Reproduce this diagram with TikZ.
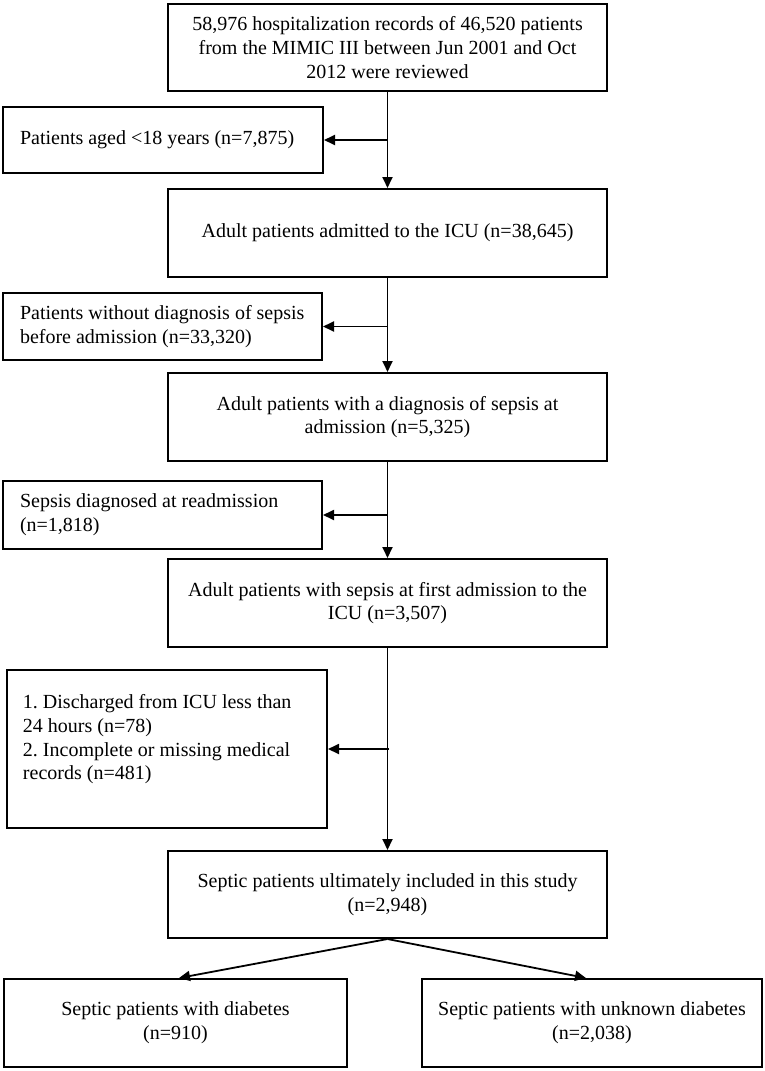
\documentclass[tikz,border=0pt]{standalone}
\usepackage{fontspec}
\setmainfont{Liberation Serif}
\usetikzlibrary{arrows.meta,calc}
\begin{document}
\frenchspacing
\begin{tikzpicture}[x=1pt,y=-1pt,
  box/.style={draw=black, line width=2pt, inner xsep=0pt, inner ysep=0pt,
    font=\fontsize{20pt}{23.8pt}\selectfont\frenchspacing, align=flush center, anchor=center},
  sidebox/.style={box, align=flush left},
  arr/.style={line width=1.8pt, -{Triangle[length=11pt,width=10pt]}}]
\useasboundingbox (0,0) rectangle (765,1071);
% main column
\node[box, minimum width=439pt, minimum height=87pt, text width=425pt] (b1) at (387.5,47.5)
  {58,976 hospitalization records of 46,520 patients\\from the MIMIC III between Jun 2001 and Oct\\2012 were reviewed};
\node[box, minimum width=439pt, minimum height=88pt, text width=425pt] (b2) at (387.5,233)
  {Adult patients admitted to the ICU (n=38,645)};
\node[box, minimum width=439pt, minimum height=88pt, text width=425pt] (b3) at (387.5,417)
  {Adult patients with a diagnosis of sepsis at\\admission (n=5,325)};
\node[box, minimum width=439pt, minimum height=88pt, text width=425pt] (b4) at (387.5,603)
  {Adult patients with sepsis at first admission to the\\ICU (n=3,507)};
\node[box, minimum width=439pt, minimum height=87pt, text width=425pt] (b5) at (387.5,894.5)
  {Septic patients ultimately included in this study\\(n=2,948)};
% side boxes
\node[sidebox, minimum width=320pt, minimum height=66pt, text width=286pt] (s1) at (163,140)
  {Patients aged <18 years (n=7,875)};
\node[sidebox, minimum width=319pt, minimum height=67pt, text width=285pt] (s2) at (162.5,326.5)
  {Patients without diagnosis of sepsis\\before admission (n=33,320)};
\node[sidebox, minimum width=319pt, minimum height=68pt, text width=285pt] (s3) at (162.5,515)
  {Sepsis diagnosed at readmission\\(n=1,818)};
\node[sidebox, minimum width=320pt, minimum height=158pt, text width=288pt] (s4) at (167,749)
  {1. Discharged from ICU less than\\24 hours (n=78)\\2. Incomplete or missing medical\\records (n=481)\\\mbox{}};
% bottom boxes
\node[box, minimum width=343pt, minimum height=88pt, text width=330pt] (d1) at (175.5,1023)
  {Septic patients with diabetes\\(n=910)};
\node[box, minimum width=340pt, minimum height=88pt, text width=330pt] (d2) at (592,1023)
  {Septic patients with unknown diabetes\\(n=2,038)};
% junctions
\coordinate (j1) at (b1.south |- s1.east);
\coordinate (j2) at (b2.south |- s2.east);
\coordinate (j3) at (b3.south |- s3.east);
\coordinate (j4) at ($(b4.south |- s4.east)+(1.5,0)$);
\coordinate (t1) at ($(d1.north)+(3.5,0)$);
\coordinate (t2) at ($(d2.north)+(-6,0)$);
% connectors
\draw[arr] (b1.south) -- (b2.north);
\draw[arr] (j1) -- (s1.east);
\draw[arr] (b2.south) -- (b3.north);
\draw[arr] (j2) -- (s2.east);
\draw[arr] (b3.south) -- (b4.north);
\draw[arr] (j3) -- (s3.east);
\draw[arr] (b4.south) -- (b5.north);
\draw[arr] (j4) -- (s4.east);
\draw[arr] (b5.south) -- (t1);
\draw[arr] (b5.south) -- (t2);
\end{tikzpicture}
\end{document}
